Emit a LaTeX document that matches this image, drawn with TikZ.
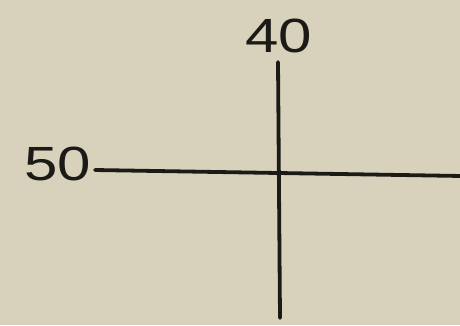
\documentclass[tikz,border=0pt]{standalone}
\usepackage{fontspec}
\setmainfont{Liberation Sans}
\definecolor{paper}{HTML}{D8D2BC}
\definecolor{ink}{HTML}{1C1A16}
\begin{document}
\begin{tikzpicture}[x=1pt,y=-1pt,
  axis/.style={draw=ink,line width=3.8pt,line cap=round},
  lbl/.style={text=ink,font=\fontsize{48}{50}\selectfont,inner sep=0pt,xscale=1.25}]
\fill[paper] (0,0) rectangle (460,325);
\useasboundingbox (0,0) rectangle (460,325);
\node[lbl] (t40) at (279,36) {40};
\node[lbl] (t50) at (58,164) {50};
\coordinate (vtop) at (278,62);
\coordinate (vbot) at (280,318);
\coordinate (hl) at (95,170);
\coordinate (hr) at (462,176);
\draw[axis] (vtop) -- (vbot);
\draw[axis] (hl) -- (hr);
\end{tikzpicture}
\end{document}
